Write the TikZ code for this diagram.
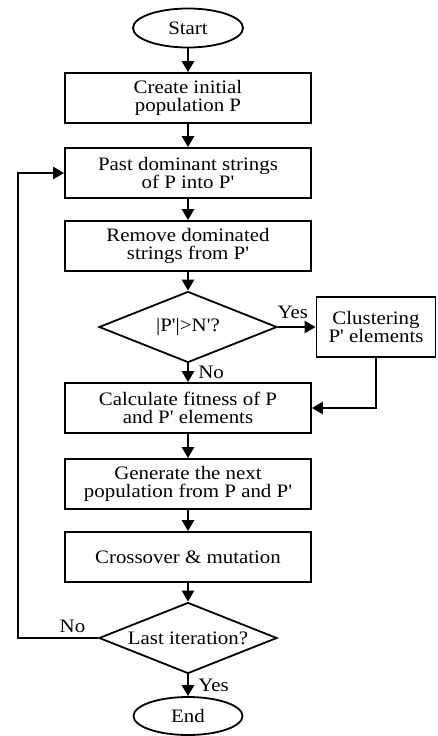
\documentclass[tikz,border=0pt]{standalone}
\usepackage{fontspec}
\setmainfont{Liberation Serif}[FakeStretch=1.1,Ligatures=TeXOff]
\usetikzlibrary{arrows.meta,shapes.geometric}

\begin{document}
\begin{tikzpicture}[x=1pt,y=-1pt,>={Triangle[length=11pt,width=12pt]}]
\tikzset{every node/.style={font=\fontsize{19}{18.5}\selectfont,align=center,inner sep=0pt}}
\tikzset{stepbox/.style={draw,line width=1.8pt,minimum width=246pt,minimum height=50pt}}
\tikzset{terminal/.style={draw,ellipse,line width=1.8pt,minimum width=110pt,minimum height=39pt}}
\tikzset{test/.style={draw,diamond,aspect=2.5,line width=1.8pt,minimum width=178pt,minimum height=71pt}}
\tikzset{flow/.style={->,line width=2.6pt}}
\useasboundingbox (0,0) rectangle (437,736);

\node[terminal] (start) at (188,28) {Start};
\node[stepbox] (init) at (188,98) {Create initial\\population P};
\node[stepbox] (past) at (188,173) {Past dominant strings\\of P into P'};
\node[stepbox] (remove) at (188,246) {Remove dominated\\strings from P'};
\node[test] (size) at (188,327) {|P'|>N'?};
\node[stepbox,minimum width=119pt,minimum height=60pt] (cluster) at (376,327) {Clustering\\P' elements};
\node[stepbox] (fitness) at (188,408) {Calculate fitness of P\\and P' elements};
\node[stepbox] (generate) at (188,484) {Generate the next\\population from P and P'};
\node[stepbox] (cross) at (188,557) {Crossover \& mutation};
\node[test] (last) at (188,638) {Last iteration?};
\node[terminal,minimum width=109pt,minimum height=38pt] (end) at (188,716) {End};
\coordinate (loop) at (18,638);

\draw[flow] (start) -- (init);
\draw[flow] (init) -- (past);
\draw[flow] (past) -- (remove);
\draw[flow] (remove) -- (size);
\draw[flow] (size.east) -- node[above=7pt,xshift=-4pt] (yes1) {Yes} (cluster.west);
\draw[flow] (size.south) -- node[anchor=west,xshift=9pt] (no1) {No} (fitness.north);
\draw[flow] (cluster.south) |- (fitness.east);
\draw[flow] (fitness) -- (generate);
\draw[flow] (generate) -- (cross);
\draw[flow] (cross) -- (last);
\draw[flow] (last.west) -- node[pos=0.32,above=4pt] (no2) {No} (loop) |- (past.west);
\draw[flow] (last.south) -- node[anchor=west,xshift=9pt] (yes2) {Yes} (end.north);
\end{tikzpicture}
\end{document}
